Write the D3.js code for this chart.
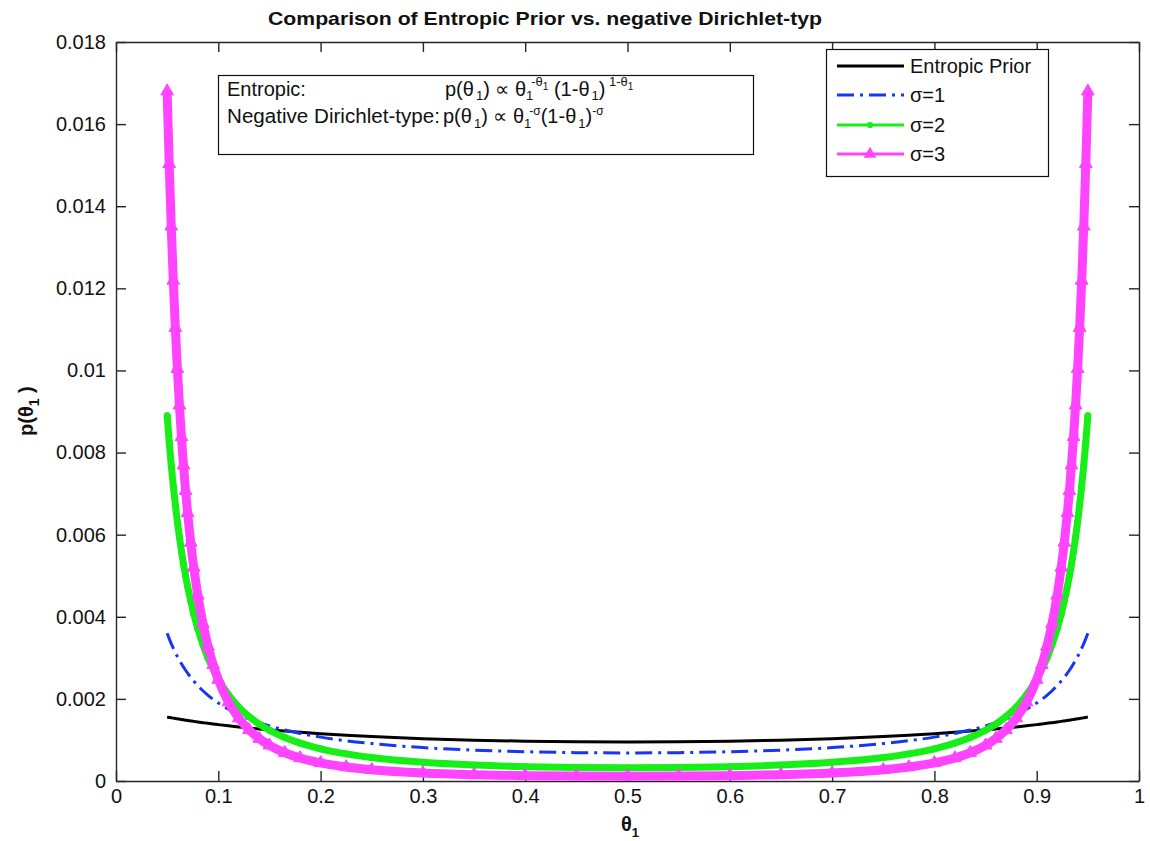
<!DOCTYPE html>
<html>
<head>
<meta charset="utf-8">
<script src="https://cdn.jsdelivr.net/npm/d3@7"></script>
<style>
  body { margin: 0; background: #fff; }
  svg { display: block; }
  text { font-family: "Liberation Sans", Arial, sans-serif; fill: #111; }
</style>
</head>
<body>
<div id="chart"></div>
<script>
// ===== DATA =====
const theta = [0.05, 0.052, 0.054, 0.056, 0.058, 0.06, 0.062, 0.064, 0.066, 0.068, 0.07, 0.073, 0.076, 0.08, 0.085, 0.09, 0.095,
  0.1, 0.11, 0.12, 0.13, 0.14, 0.15, 0.165, 0.18, 0.2, 0.225, 0.25, 0.3, 0.35, 0.4, 0.45, 0.5,
  0.55, 0.6, 0.65, 0.7, 0.75, 0.775, 0.8, 0.82, 0.835, 0.85, 0.86, 0.87, 0.88, 0.89, 0.9,
  0.905, 0.91, 0.915, 0.92, 0.924, 0.927, 0.93, 0.932, 0.934, 0.936, 0.938, 0.94, 0.942, 0.944, 0.946, 0.948, 0.95];

const entropic = [0.001558, 0.001549, 0.001540, 0.001531, 0.001523, 0.001514, 0.001506, 0.001498, 0.001490, 0.001482, 0.001474,
  0.001463, 0.001452, 0.001438, 0.001421, 0.001404, 0.001388, 0.001373, 0.001344, 0.001316, 0.001291, 0.001267, 0.001245,
  0.001215, 0.001187, 0.001152, 0.001116, 0.001083, 0.001031, 0.000994, 0.000969, 0.000955, 0.000950,
  0.000955, 0.000969, 0.000994, 0.001031, 0.001083, 0.001116, 0.001152, 0.001187, 0.001215, 0.001245, 0.001267, 0.001291,
  0.001316, 0.001344, 0.001373, 0.001388, 0.001404, 0.001421, 0.001438, 0.001452, 0.001463, 0.001474, 0.001482, 0.001490,
  0.001498, 0.001506, 0.001514, 0.001523, 0.001531, 0.001540, 0.001549, 0.001558];

const sigma1 = [0.003600, 0.003469, 0.003347, 0.003235, 0.003130, 0.003032, 0.002940, 0.002855, 0.002774, 0.002698, 0.002627,
  0.002527, 0.002435, 0.002323, 0.002199, 0.002088, 0.001989, 0.001900, 0.001747, 0.001619, 0.001512, 0.001420, 0.001341,
  0.001241, 0.001159, 0.001069, 0.000981, 0.000912, 0.000814, 0.000752, 0.000713, 0.000691, 0.000684,
  0.000691, 0.000713, 0.000752, 0.000814, 0.000912, 0.000981, 0.001069, 0.001159, 0.001241, 0.001341, 0.001420, 0.001512,
  0.001619, 0.001747, 0.001900, 0.001989, 0.002088, 0.002199, 0.002323, 0.002435, 0.002527, 0.002627, 0.002698, 0.002774,
  0.002855, 0.002940, 0.003032, 0.003130, 0.003235, 0.003347, 0.003469, 0.003600];

const sigma2 = [0.00890, 0.00826, 0.00769, 0.00719, 0.00673, 0.00631, 0.00594, 0.00560, 0.00528, 0.00500, 0.00474,
  0.00439, 0.00407, 0.00371, 0.00332, 0.00299, 0.00272, 0.00248, 0.00210, 0.00180, 0.00157, 0.001385, 0.001235,
  0.001058, 0.000922, 0.000784, 0.000660, 0.000571, 0.000455, 0.000388, 0.000349, 0.000328, 0.000321,
  0.000328, 0.000349, 0.000388, 0.000455, 0.000571, 0.000660, 0.000784, 0.000922, 0.001058, 0.001235, 0.001385, 0.00157,
  0.00180, 0.00210, 0.00248, 0.00272, 0.00299, 0.00332, 0.00371, 0.00407, 0.00439, 0.00474, 0.00500, 0.00528,
  0.00560, 0.00594, 0.00631, 0.00673, 0.00719, 0.00769, 0.00826, 0.00890];

const sigma3 = [0.01680, 0.01503, 0.01351, 0.01219, 0.01104, 0.01004, 0.00915, 0.00838, 0.00769, 0.00707, 0.00653,
  0.00581, 0.00520, 0.00452, 0.00383, 0.00328, 0.00283, 0.00247, 0.00192, 0.00153, 0.001245, 0.001032, 0.000869,
  0.000688, 0.000560, 0.000440, 0.000340, 0.000273, 0.000194, 0.000153, 0.000130, 0.000119, 0.000115,
  0.000119, 0.000130, 0.000153, 0.000194, 0.000273, 0.000340, 0.000440, 0.000560, 0.000688, 0.000869, 0.001032, 0.001245,
  0.00153, 0.00192, 0.00247, 0.00283, 0.00328, 0.00383, 0.00452, 0.00520, 0.00581, 0.00653, 0.00707, 0.00769,
  0.00838, 0.00915, 0.01004, 0.01104, 0.01219, 0.01351, 0.01503, 0.01680];

const xTicks = [0, 0.1, 0.2, 0.3, 0.4, 0.5, 0.6, 0.7, 0.8, 0.9, 1];
const yTicks = [0, 0.002, 0.004, 0.006, 0.008, 0.01, 0.012, 0.014, 0.016, 0.018];
const seriesNames = ["Entropic Prior", "\u03c3=1", "\u03c3=2", "\u03c3=3"];

// ===== SETUP =====
const width = 1150, height = 841;
const plot = { left: 116, right: 1139, top: 42, bottom: 781 };
const fontSize = 20;

const svg = d3.select('#chart').append('svg')
  .attr('width', width)
  .attr('height', height);

const x = d3.scaleLinear().domain([0, 1]).range([plot.left, plot.right]);
const y = d3.scaleLinear().domain([0, 0.018]).range([plot.bottom, plot.top]);

const series = [
  { name: seriesNames[0], values: entropic, color: '#000000', width: 3, dash: null, band: 0, marker: null },
  { name: seriesNames[1], values: sigma1, color: '#1636f5', width: 3, dash: '17,6,3,6', band: 0, marker: null },
  { name: seriesNames[2], values: sigma2, color: '#18ee18', width: 2.8, dash: null, band: 7, marker: 'dot' },
  { name: seriesNames[3], values: sigma3, color: '#ff44ff', width: 2.8, dash: null, band: 9, marker: 'tri' }
];

// ===== AXES =====
const axisColor = '#262626';

const gx = svg.append('g')
  .attr('transform', `translate(0,${plot.bottom})`)
  .call(d3.axisBottom(x).tickValues(xTicks).tickSize(-10).tickSizeOuter(0).tickPadding(8).tickFormat(d => String(d)));
const gxTop = svg.append('g')
  .attr('transform', `translate(0,${plot.top})`)
  .call(d3.axisTop(x).tickValues(xTicks).tickSize(-10).tickSizeOuter(0).tickFormat(''));
const gy = svg.append('g')
  .attr('transform', `translate(${plot.left},0)`)
  .call(d3.axisLeft(y).tickValues(yTicks).tickSize(-10).tickSizeOuter(0).tickPadding(10).tickFormat(d => String(d)));
const gyRight = svg.append('g')
  .attr('transform', `translate(${plot.right},0)`)
  .call(d3.axisRight(y).tickValues(yTicks).tickSize(-10).tickSizeOuter(0).tickFormat(''));

[gx, gxTop, gy, gyRight].forEach(g => {
  g.selectAll('path.domain').attr('stroke', axisColor).attr('stroke-width', 1.4);
  g.selectAll('line').attr('stroke', axisColor).attr('stroke-width', 1.4);
  g.selectAll('text').attr('font-size', fontSize + 'px').attr('fill', '#222')
    .attr('font-family', '"Liberation Sans", Arial, sans-serif');
});

// ===== LINES =====
const line = d3.line()
  .x((d, i) => x(theta[i]))
  .y(d => y(d))
  .curve(d3.curveMonotoneX);

const lines = svg.append('g');

function markerPath(kind) {
  return kind === 'tri'
    ? d3.symbol().type(d3.symbolTriangle).size(70)
    : d3.symbol().type(d3.symbolCircle).size(30);
}

series.forEach(s => {
  // markers packed tightly in the original make a solid band
  if (s.band) {
    lines.append('path')
      .attr('d', line(s.values))
      .attr('fill', 'none')
      .attr('stroke', s.color)
      .attr('stroke-width', s.band)
      .attr('stroke-linejoin', 'round');
  }
  lines.append('path')
    .attr('d', line(s.values))
    .attr('fill', 'none')
    .attr('stroke', s.color)
    .attr('stroke-width', s.width)
    .attr('stroke-dasharray', s.dash)
    .attr('stroke-linejoin', 'round');

  if (s.marker) {
    lines.append('g')
      .selectAll('path')
      .data(s.values)
      .enter().append('path')
      .attr('d', markerPath(s.marker))
      .attr('transform', (d, i) => `translate(${x(theta[i])},${y(d)})`)
      .attr('fill', s.color)
      .attr('stroke', s.color)
      .attr('stroke-width', 1);
  }
});

// ===== TITLE & LABELS =====
svg.append('text')
  .attr('x', 268).attr('y', 25)
  .attr('font-size', '19px')
  .attr('font-weight', 'bold')
  .attr('textLength', 554)
  .attr('lengthAdjust', 'spacingAndGlyphs')
  .text('Comparison of Entropic Prior vs. negative Dirichlet-typ');

const xl = svg.append('text')
  .attr('x', 621).attr('y', 831)
  .attr('font-size', fontSize + 'px')
  .attr('font-weight', 'bold');
xl.append('tspan').text('\u03b8');
xl.append('tspan').attr('dy', 6).attr('font-size', '13px').text('1');

const yl = svg.append('text')
  .attr('transform', 'translate(33,436) rotate(-90)')
  .attr('font-size', fontSize + 'px')
  .attr('font-weight', 'bold');
yl.append('tspan').text('p(\u03b8');
yl.append('tspan').attr('dy', 6).attr('font-size', '14px').text('1');
yl.append('tspan').attr('dy', -6).text(' )');

// ===== FORMULA BOX =====
svg.append('rect')
  .attr('x', 218.5).attr('y', 75.5)
  .attr('width', 535).attr('height', 79)
  .attr('fill', '#fff')
  .attr('stroke', '#111')
  .attr('stroke-width', 1.2);

function addRich(xPos, yPos, parts) {
  const t = svg.append('text').attr('x', xPos).attr('y', yPos).attr('font-size', fontSize + 'px');
  let cur = 0;
  parts.forEach(p => {
    const ts = t.append('tspan')
      .attr('dy', p.off - cur)
      .attr('font-size', p.size + 'px')
      .text(p.s);
    if (p.dx) ts.attr('dx', p.dx);
    cur = p.off;
  });
  return t;
}

svg.append('text').attr('x', 227).attr('y', 96).attr('font-size', fontSize + 'px').text('Entropic:');
addRich(445, 96, [
  { s: 'p(\u03b8', off: 0, size: 20 },
  { s: '1', off: 4, size: 13, dx: 2 },
  { s: ') \u221d \u03b8', off: 0, size: 20 },
  { s: '1', off: 4, size: 13 },
  { s: '-\u03b8', off: -10, size: 13, dx: -2 },
  { s: '1', off: -6, size: 10 },
  { s: ' (1-\u03b8', off: 0, size: 20 },
  { s: '1', off: 4, size: 13, dx: 2 },
  { s: ')', off: 0, size: 20 },
  { s: ' 1-\u03b8', off: -10, size: 13 },
  { s: '1', off: -6, size: 10 }
]);

svg.append('text').attr('x', 227).attr('y', 123).attr('font-size', fontSize + 'px')
  .attr('textLength', 213).attr('lengthAdjust', 'spacingAndGlyphs')
  .text('Negative Dirichlet-type:');
addRich(443, 123, [
  { s: 'p(\u03b8', off: 0, size: 20 },
  { s: '1', off: 5, size: 13, dx: 2 },
  { s: ') \u221d \u03b8', off: 0, size: 20 },
  { s: '1', off: 5, size: 13 },
  { s: '-\u03c3', off: -8, size: 12, dx: -2 },
  { s: '(1-\u03b8', off: 0, size: 20 },
  { s: '1', off: 5, size: 13, dx: 2 },
  { s: ')', off: 0, size: 20 },
  { s: '-\u03c3', off: -8, size: 12 }
]);

// ===== LEGEND =====
const legend = svg.append('g');
legend.append('rect')
  .attr('x', 826.5).attr('y', 49.5)
  .attr('width', 222).attr('height', 127)
  .attr('fill', '#fff')
  .attr('stroke', '#111')
  .attr('stroke-width', 1.2);

const legendY = [66, 95, 125, 154];
series.forEach((s, i) => {
  const ly = legendY[i];
  legend.append('line')
    .attr('x1', 837).attr('x2', 904)
    .attr('y1', ly).attr('y2', ly)
    .attr('stroke', s.color)
    .attr('stroke-width', s.width)
    .attr('stroke-dasharray', s.dash);
  if (s.marker) {
    legend.append('path')
      .attr('d', markerPath(s.marker))
      .attr('transform', `translate(870,${ly})`)
      .attr('fill', s.color);
  }
  legend.append('text')
    .attr('x', 910).attr('y', ly + 7)
    .attr('font-size', fontSize + 'px')
    .text(s.name);
});
</script>
</body>
</html>
